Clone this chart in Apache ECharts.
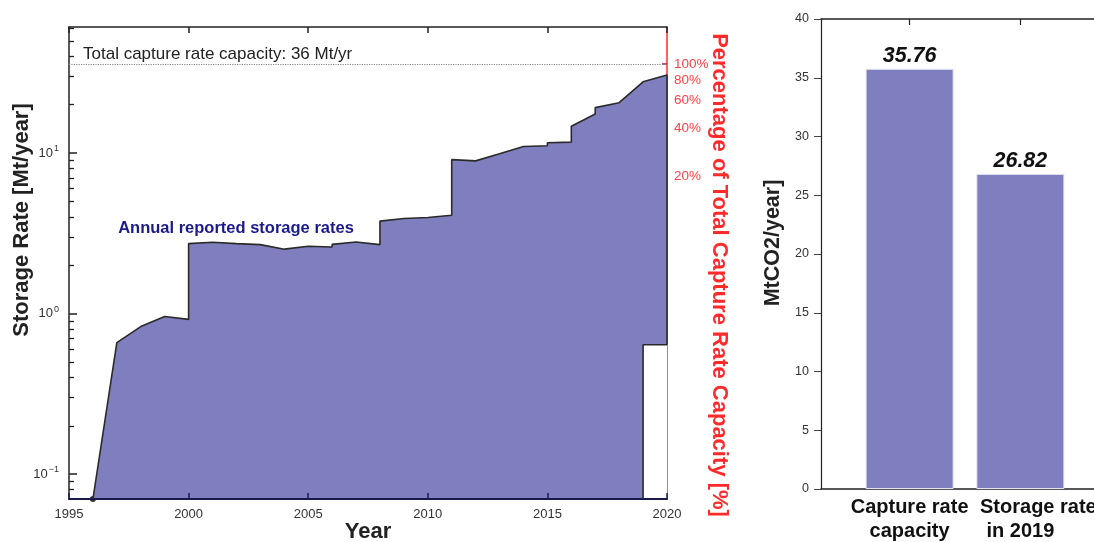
<!DOCTYPE html>
<html>
<head>
<meta charset="utf-8">
<script src="https://cdn.jsdelivr.net/npm/echarts@6/dist/echarts.min.js"></script>
<style>
html,body{margin:0;padding:0;background:#fff;}
#chart{width:1094px;height:542px;}
</style>
</head>
<body>
<div id="chart"></div>
<script>
// ---------- data ----------
const years = [1996, 1997, 1998, 1999, 2000, 2000, 2001, 2002, 2003, 2004, 2005, 2006, 2006, 2007, 2008, 2008, 2009, 2010, 2011, 2011, 2012, 2013, 2014, 2015, 2015, 2016, 2016, 2017, 2017, 2018, 2019, 2019, 2020, 2020];
const rates = [0.07, 0.66, 0.83, 0.96, 0.92, 2.73, 2.78, 2.73, 2.69, 2.52, 2.63, 2.60, 2.70, 2.79, 2.69, 3.77, 3.91, 3.97, 4.10, 9.10, 8.94, 9.90, 11.0, 11.1, 11.6, 11.7, 14.7, 17.5, 19.2, 20.6, 27.8, 28.3, 30.6, 0.64];
const gapYears = [2019, 2019, 2020];
const gapRates = [0.07, 0.64, 0.64];
const capacity = 35.76;
const capacityText = 'Total capture rate capacity: 36 Mt/yr';
const seriesText = 'Annual reported storage rates';
const logMajor = [0.1, 1, 10];
const logMinor = [0.08, 0.09, 0.2, 0.3, 0.4, 0.5, 0.6, 0.7, 0.8, 0.9, 2, 3, 4, 5, 6, 7, 8, 9, 20, 30, 40, 50, 60];
const pctTicks = [20, 40, 60, 80, 100];
const barNames = [['Capture rate', 'capacity'], ['Storage rate', 'in 2019']];
const barPos = [1, 2];
const barValues = [35.76, 26.82];

// ---------- layout constants ----------
const yMin = 0.07, yMax = 61;
const FONT = '"Liberation Sans", Arial, Helvetica, sans-serif';
const FILL = '#7f7fbf';
const RED = '#ff2b2b';

const chart = echarts.init(document.getElementById('chart'), null, {renderer: 'canvas'});

const expStr = v => { const e = Math.round(Math.log10(v)); return e < 0 ? '\u2212' + (-e) : String(e); };

const barLabelRich = {
  a: {fontSize: 20, fontWeight: 'bold', color: '#111', fontFamily: FONT, lineHeight: 24},
  a2: {fontSize: 20, fontWeight: 'bold', color: '#111', fontFamily: FONT, lineHeight: 24, padding: [0, 0, 0, 36]},
  b: {fontSize: 20, fontWeight: 'bold', color: '#111', fontFamily: FONT, lineHeight: 24}
};
const barLabelFmt = v => {
  const i = Math.round(v) - 1;
  const n = barNames[i];
  if (!n) return '';
  return '{' + (i === 1 ? 'a2' : 'a') + '|' + n[0] + '}\n{b|' + n[1] + '}';
};

const barXAxis = (vals, showLine) => ({
  type: 'value', gridIndex: 1, min: 0.2, max: 2.8, position: 'bottom',
  axisLine: {show: showLine, lineStyle: {color: '#222', width: 1.5}},
  axisTick: {show: showLine, inside: true, length: 5, customValues: barPos, lineStyle: {color: '#ccc'}},
  axisLabel: {customValues: vals, formatter: barLabelFmt, showMinLabel: true, showMaxLabel: true,
              hideOverlap: false, margin: 6, rich: barLabelRich},
  splitLine: {show: false}
});

const option = {
  animation: false,
  textStyle: {fontFamily: FONT},
  grid: [
    {left: 69, right: 427, top: 27, bottom: 43, outerBoundsMode: 'none', containLabel: false},
    {left: 821, width: 288, top: 19, bottom: 53, outerBoundsMode: 'none', containLabel: false}
  ],
  xAxis: [
    {type: 'value', gridIndex: 0, min: 1995, max: 2020, interval: 5, position: 'bottom', z: 3,
     name: 'Year', nameLocation: 'middle', nameGap: 22, nameMoveOverlap: false,
     nameTextStyle: {fontSize: 22, fontWeight: 'bold', color: '#222', fontFamily: FONT},
     axisLine: {lineStyle: {color: '#1a1a4a', width: 2}},
     axisTick: {inside: true, length: 6, lineStyle: {color: '#1a1a5a', width: 1.5}},
     axisLabel: {fontSize: 13, color: '#333', margin: 9, formatter: v => String(v)},
     splitLine: {show: false}},
    {type: 'value', gridIndex: 0, min: 1995, max: 2020, interval: 5, position: 'top',
     axisLine: {lineStyle: {color: '#222', width: 1.5}},
     axisTick: {inside: true, length: 6, lineStyle: {color: '#222', width: 1.5}},
     axisLabel: {show: false}, splitLine: {show: false}},
    barXAxis([barPos[0]], true),
    {type: 'value', gridIndex: 1, min: 0.2, max: 2.8, position: 'top',
     axisLine: {lineStyle: {color: '#222', width: 1.5}},
     axisTick: {inside: true, length: 6, customValues: barPos, lineStyle: {color: '#222', width: 1.2}},
     axisLabel: {show: false}, splitLine: {show: false}},
    barXAxis([barPos[1]], false)
  ],
  yAxis: [
    {type: 'log', logBase: 10, gridIndex: 0, min: yMin, max: yMax, position: 'left',
     axisLine: {show: true, lineStyle: {color: '#222', width: 1.5}},
     axisTick: {show: true, inside: true, length: 8, customValues: logMajor, lineStyle: {color: '#222', width: 1.5}},
     axisLabel: {customValues: logMajor, margin: 10, color: '#333',
                 formatter: v => '{b|10}{s|' + expStr(v) + '}',
                 rich: {b: {fontSize: 13, color: '#333', fontFamily: FONT},
                        s: {fontSize: 9, color: '#333', fontFamily: FONT, padding: [0, 0, 9, 1]}}},
     splitLine: {show: false}},
    {type: 'log', logBase: 10, gridIndex: 0, min: yMin, max: yMax, position: 'left',
     axisLine: {show: false},
     axisTick: {show: true, inside: true, length: 5, customValues: logMinor, lineStyle: {color: '#222', width: 1.3}},
     axisLabel: {show: false}, splitLine: {show: false}},
    {type: 'log', logBase: 10, gridIndex: 0, position: 'right',
     min: yMin / capacity * 100, max: yMax / capacity * 100,
     axisLine: {show: true, lineStyle: {color: RED, width: 1.5}},
     axisTick: {show: true, inside: true, length: 5, customValues: pctTicks, lineStyle: {color: '#a0204a', width: 1.5}},
     axisLabel: {customValues: pctTicks, formatter: '{value}%', color: '#ff4040', fontSize: 13.5, margin: 7},
     splitLine: {show: false}},
    {type: 'value', gridIndex: 1, min: 0, max: 40, interval: 5, position: 'left',
     axisLine: {show: true, lineStyle: {color: '#222', width: 1.2}},
     axisTick: {show: true, inside: false, length: 7, lineStyle: {color: '#444'}},
     axisLabel: {fontSize: 12.5, color: '#333', margin: 12},
     splitLine: {show: false}}
  ],
  series: [
    {type: 'line', xAxisIndex: 0, yAxisIndex: 0, symbol: 'none',
     data: years.map((y, i) => [y, rates[i]]),
     lineStyle: {color: '#2a2a2a', width: 1.6},
     areaStyle: {color: FILL, opacity: 1, origin: 'start'},
     markLine: {silent: true, symbol: 'none', animation: false,
       lineStyle: {type: 'dotted', color: '#888', width: 1.2},
       label: {show: true, position: 'insideStartTop', formatter: capacityText,
               fontSize: 17, color: '#222', fontFamily: FONT, distance: [14, 1]},
       data: [{yAxis: capacity}]}},
    {type: 'line', xAxisIndex: 0, yAxisIndex: 0, symbol: 'none',
     data: gapYears.map((y, i) => [y, gapRates[i]]),
     lineStyle: {color: '#2a2a2a', width: 1.6},
     areaStyle: {color: '#fff', opacity: 1, origin: 'start'}},
    {type: 'scatter', xAxisIndex: 0, yAxisIndex: 0, symbolSize: 6,
     itemStyle: {color: '#000'}, data: [[years[0], rates[0]]]},
    {type: 'bar', xAxisIndex: 2, yAxisIndex: 3, barWidth: 88,
     data: barPos.map((p, i) => [p, barValues[i]]),
     itemStyle: {color: FILL, borderColor: '#e4e4f2', borderWidth: 1},
     label: {show: true, position: 'top', distance: 2,
             formatter: p => p.value[1].toFixed(2),
             fontSize: 21.5, fontWeight: 'bold', fontStyle: 'italic', color: '#111', fontFamily: FONT}}
  ],
  graphic: [
    {type: 'text', x: 236, y: 228, z: 50,
     style: {text: seriesText, fontSize: 16.5, fontWeight: 'bold', fill: '#1a1a8c', fontFamily: FONT,
             align: 'center', verticalAlign: 'middle'}},
    {type: 'text', x: 22, y: 220, rotation: Math.PI / 2, z: 50,
     style: {text: 'Storage Rate [Mt/year]', fontSize: 22, fontWeight: 'bold', fill: '#222', fontFamily: FONT,
             align: 'center', verticalAlign: 'middle'}},
    {type: 'text', x: 719, y: 275, rotation: -Math.PI / 2, z: 50,
     style: {text: 'Percentage of Total Capture Rate Capacity [%]', fontSize: 22, fontWeight: 'bold', fill: RED, fontFamily: FONT,
             align: 'center', verticalAlign: 'middle'}},
    {type: 'text', x: 773, y: 243, rotation: Math.PI / 2, z: 50,
     style: {text: 'MtCO2/year]', fontSize: 21.5, fontWeight: 'bold', fill: '#222', fontFamily: FONT,
             align: 'center', verticalAlign: 'middle'}}
  ]
};
chart.setOption(option);
</script>
</body>
</html>
